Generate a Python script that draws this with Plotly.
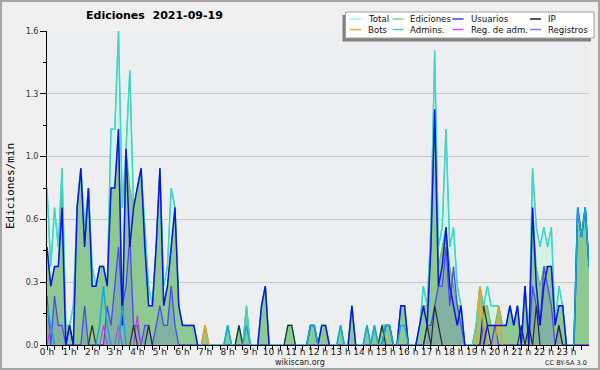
import plotly.graph_objects as go

# ---------------- data (edits per minute, 10-minute bins, 0:00 .. 24:00) ----------------
hour_labels = [f"{h} h" for h in range(24)]
y_tick_vals = [0, 0.32, 0.64, 0.96, 1.28, 1.6]
y_tick_text = ["0.0", "0.3", "0.6", "1.0", "1.3", "1.6"]

total = [
    0.8, 0.4, 0.7, 0.5, 0.9, 0.1,   0.1, 0.2, 0.7, 0.9, 0.6, 0.8,
    0.4, 0.3, 0.4, 0.4, 0.3, 1.1,   1.1, 1.6, 0.7, 1.0, 1.4, 0.7,
    0.8, 0.9, 0.6, 0.3, 0.2, 0.5,   0.9, 0.3, 0.4, 0.8, 0.7, 0.2,
    0.1, 0.1, 0.1, 0.1, 0.0, 0.0,   0.1, 0.0, 0.0, 0.0, 0.0, 0.0,
    0.1, 0.0, 0.0, 0.1, 0.0, 0.2,   0.0, 0.0, 0.0, 0.2, 0.3, 0.0,
    0.0, 0.0, 0.0, 0.0, 0.1, 0.1,   0.0, 0.0, 0.0, 0.0, 0.1, 0.1,
    0.0, 0.1, 0.1, 0.0, 0.0, 0.0,   0.1, 0.0, 0.0, 0.2, 0.0, 0.0,
    0.0, 0.1, 0.0, 0.1, 0.0, 0.1,   0.1, 0.1, 0.0, 0.0, 0.2, 0.2,
    0.0, 0.0, 0.0, 0.1, 0.3, 0.2,   0.6, 1.5, 0.5, 0.6, 1.1, 0.5,
    0.6, 0.3, 0.2, 0.0, 0.0, 0.0,   0.1, 0.3, 0.2, 0.3, 0.2, 0.2,
    0.2, 0.1, 0.1, 0.2, 0.1, 0.2,   0.0, 0.3, 0.0, 0.9, 0.6, 0.5,
    0.6, 0.5, 0.6, 0.1, 0.3, 0.2,   0.0, 0.0, 0.0, 0.7, 0.55, 0.7,
    0.4,
]
ediciones = [
    0.5, 0.3, 0.4, 0.4, 0.8, 0.1,   0.1, 0.0, 0.7, 0.9, 0.5, 0.8,
    0.3, 0.3, 0.4, 0.4, 0.3, 0.8,   0.8, 1.1, 0.2, 1.0, 0.8, 0.7,
    0.8, 0.9, 0.5, 0.2, 0.2, 0.5,   0.9, 0.2, 0.3, 0.5, 0.7, 0.2,
    0.1, 0.1, 0.1, 0.1, 0.0, 0.0,   0.1, 0.0, 0.0, 0.0, 0.0, 0.0,
    0.1, 0.0, 0.0, 0.1, 0.0, 0.2,   0.0, 0.0, 0.0, 0.2, 0.3, 0.0,
    0.0, 0.0, 0.0, 0.0, 0.1, 0.1,   0.0, 0.0, 0.0, 0.0, 0.1, 0.1,
    0.0, 0.1, 0.1, 0.0, 0.0, 0.0,   0.1, 0.0, 0.0, 0.2, 0.0, 0.0,
    0.0, 0.1, 0.0, 0.1, 0.0, 0.1,   0.1, 0.1, 0.0, 0.0, 0.2, 0.2,
    0.0, 0.0, 0.0, 0.1, 0.2, 0.2,   0.5, 1.2, 0.4, 0.5, 0.6, 0.4,
    0.3, 0.2, 0.2, 0.0, 0.0, 0.0,   0.1, 0.3, 0.2, 0.2, 0.1, 0.1,
    0.2, 0.1, 0.1, 0.2, 0.1, 0.2,   0.0, 0.3, 0.0, 0.7, 0.4, 0.3,
    0.4, 0.4, 0.4, 0.1, 0.2, 0.2,   0.0, 0.0, 0.0, 0.7, 0.55, 0.7,
    0.4,
]
usuarios = [
    0.5, 0.3, 0.4, 0.4, 0.7, 0.0,   0.1, 0.0, 0.7, 0.9, 0.5, 0.8,
    0.3, 0.3, 0.4, 0.4, 0.3, 0.8,   0.8, 1.1, 0.1, 1.0, 0.5, 0.7,
    0.8, 0.9, 0.5, 0.2, 0.2, 0.5,   0.9, 0.2, 0.3, 0.5, 0.7, 0.2,
    0.1, 0.1, 0.1, 0.1, 0.0, 0.0,   0.0, 0.0, 0.0, 0.0, 0.0, 0.0,
    0.0, 0.0, 0.0, 0.0, 0.0, 0.0,   0.0, 0.0, 0.0, 0.2, 0.3, 0.0,
    0.0, 0.0, 0.0, 0.0, 0.0, 0.0,   0.0, 0.0, 0.0, 0.0, 0.1, 0.1,
    0.0, 0.1, 0.1, 0.0, 0.0, 0.0,   0.0, 0.0, 0.0, 0.2, 0.0, 0.0,
    0.0, 0.0, 0.0, 0.0, 0.0, 0.0,   0.1, 0.1, 0.0, 0.0, 0.2, 0.2,
    0.0, 0.0, 0.0, 0.1, 0.2, 0.1,   0.5, 1.2, 0.3, 0.4, 0.6, 0.3,
    0.2, 0.1, 0.2, 0.0, 0.0, 0.0,   0.0, 0.0, 0.0, 0.1, 0.1, 0.1,
    0.1, 0.1, 0.1, 0.2, 0.1, 0.2,   0.0, 0.3, 0.0, 0.7, 0.3, 0.1,
    0.3, 0.4, 0.4, 0.1, 0.2, 0.2,   0.0, 0.0, 0.0, 0.7, 0.55, 0.7,
    0.4,
]
registros = [
    0.25, 0.0, 0.25, 0.1, 0.1, 0.0,  0.0, 0.0, 0.0, 0.0, 0.2, 0.0,
    0.0, 0.0, 0.0, 0.0, 0.2, 0.1,   0.3, 0.5, 0.2, 0.3, 0.55, 0.1,
    0.1, 0.0, 0.1, 0.1, 0.0, 0.1,   0.2, 0.1, 0.1, 0.3, 0.1, 0.0,
] + [0.0] * 63 + [
    0.0, 0.0, 0.1, 0.1, 0.2, 0.3, 0.3, 0.5, 0.2,
    0.4, 0.2, 0.1, 0.0, 0.0, 0.0,   0.0, 0.0, 0.1, 0.0, 0.0, 0.1,
    0.0, 0.0, 0.0, 0.0, 0.0, 0.0,   0.0, 0.0, 0.0, 0.3, 0.2, 0.1,
    0.4, 0.3, 0.2, 0.0, 0.1, 0.0,   0.0, 0.0, 0.0, 0.0, 0.0, 0.0,
    0.0,
]
ip = [0.0] * 145
for i, v in [(6, 0.1), (12, 0.1), (23, 0.1), (27, 0.1), (51, 0.1), (64, 0.1), (65, 0.1),
             (89, 0.1), (101, 0.1), (103, 0.2), (104, 0.1), (116, 0.2), (117, 0.1),
             (126, 0.1), (128, 0.1), (130, 0.2), (136, 0.1)]:
    ip[i] = v
admins = [0.0] * 145
for i, v in [(0, 0.2), (1, 0.1), (14, 0.1), (15, 0.3), (16, 0.1), (20, 0.2), (48, 0.1),
             (53, 0.1), (70, 0.1), (71, 0.1), (78, 0.1), (85, 0.1), (87, 0.1), (90, 0.1),
             (91, 0.1), (94, 0.1), (95, 0.1), (141, 0.7), (142, 0.55), (143, 0.7), (144, 0.4)]:
    admins[i] = v
bots = [0.0] * 145
for i, v in [(42, 0.1), (115, 0.3), (116, 0.1), (120, 0.2)]:
    bots[i] = v
reg_adm = [0.0] * 145
for i, v in [(1, 0.1), (15, 0.1), (19, 0.1), (24, 0.15)]:
    reg_adm[i] = v

x_hours = [i / 6 for i in range(len(total))]

# ---------------- layout geometry (pixels) ----------------
W, H = 600, 370
ML, MR, MT, MB = 47, 11, 31, 25
PW, PH = W - ML - MR, H - MT - MB


def px(x):
    return (x - ML) / PW


def py(y):
    return (H - MB - y) / PH


fig = go.Figure()

# Total fill + line
fig.add_trace(go.Scatter(x=x_hours, y=total, mode="lines", fill="tozeroy",
                         fillcolor="#d6f1e8", line=dict(color="#3fd6c6", width=1.3),
                         showlegend=False, hoverinfo="skip"))
# Ediciones fill
fig.add_trace(go.Scatter(x=x_hours, y=ediciones, mode="lines", fill="tozeroy",
                         fillcolor="rgba(120,190,120,0.78)", line=dict(color="#5cb85c", width=1),
                         showlegend=False, hoverinfo="skip"))
# Registros (light fill)
fig.add_trace(go.Scatter(x=x_hours, y=registros, mode="lines", fill="tozeroy",
                         fillcolor="rgba(90,90,220,0.22)", line=dict(color="#4a4af2", width=1.3),
                         showlegend=False, hoverinfo="skip"))
# Total line again on top of fills
fig.add_trace(go.Scatter(x=x_hours, y=total, mode="lines",
                         line=dict(color="#3fd6c6", width=1.3),
                         showlegend=False, hoverinfo="skip"))
for series, color, w in [(reg_adm, "#c040e0", 1.2), (ip, "#2a2a2a", 1.2),
                         (bots, "#f0a020", 1.5), (usuarios, "#0a14e6", 1.5),
                         (admins, "#12aad8", 1.5)]:
    ys = [v if v > 0 or (i > 0 and series[i - 1] > 0) or (i < len(series) - 1 and series[i + 1] > 0) else None
          for i, v in enumerate(series)]
    fig.add_trace(go.Scatter(x=x_hours, y=ys, mode="lines", connectgaps=False,
                             line=dict(color=color, width=w),
                             showlegend=False, hoverinfo="skip"))

shapes = []
# outer border
shapes.append(dict(type="rect", xref="paper", yref="paper", x0=px(1), x1=px(599), y0=py(1), y1=py(369),
                   line=dict(color="#a6a6a6", width=2), fillcolor="rgba(0,0,0,0)", layer="below"))
# legend shadow + box
shapes.append(dict(type="rect", xref="paper", yref="paper", x0=px(342.5), x1=px(591), y0=py(15), y1=py(41.5),
                   line=dict(width=0), fillcolor="#808080", layer="above"))
shapes.append(dict(type="rect", xref="paper", yref="paper", x0=px(345.5), x1=px(594), y0=py(12), y1=py(38),
                   line=dict(color="#a0a0a0", width=1), fillcolor="#ffffff", layer="above"))

legend_names = ["Total", "Ediciones", "Usuarios", "IP", "Bots", "Admins.", "Reg. de adm.", "Registros"]
legend_colors = ["#a8e8df", "#86d086", "#3c3ce8", "#1e1e1e", "#f8a040", "#40cce0", "#d050e8", "#7c7cf0"]
col_line_x = [350, 392.5, 452.5, 530]
col_text_x = [365.5, 408, 469, 545.5]
row_y = [19, 29.5]
annotations = []
for k, (name, color) in enumerate(zip(legend_names, legend_colors)):
    r, c = divmod(k, 4)
    shapes.append(dict(type="line", xref="paper", yref="paper",
                       x0=px(col_line_x[c]), x1=px(col_line_x[c] + 11),
                       y0=py(row_y[r]), y1=py(row_y[r]), line=dict(color=color, width=1.5), layer="above"))
    annotations.append(dict(text=name, xref="paper", yref="paper", x=px(col_text_x[c]), y=py(row_y[r]),
                            xanchor="left", yanchor="middle", showarrow=False,
                            font=dict(family="DejaVu Sans", size=8.6, color="#111111")))

annotations.append(dict(text="Ediciones\u00a0 2021-09-19", xref="paper", yref="paper", x=px(154), y=py(16),
                        xanchor="center", yanchor="middle", showarrow=False,
                        font=dict(family="DejaVu Sans", size=11, color="#000000", weight="bold")))
annotations.append(dict(text="Ediciones/min", xref="paper", yref="paper", x=px(10), y=py(186),
                        xanchor="center", yanchor="middle", showarrow=False, textangle=-90,
                        font=dict(family="DejaVu Sans Mono", size=11, color="#000000")))
annotations.append(dict(text="wikiscan.org", xref="paper", yref="paper", x=px(300), y=py(362),
                        xanchor="center", yanchor="middle", showarrow=False,
                        font=dict(family="DejaVu Sans", size=8, color="#222222")))
annotations.append(dict(text="CC BY-SA 3.0", xref="paper", yref="paper", x=px(589), y=py(362.5),
                        xanchor="right", yanchor="middle", showarrow=False,
                        font=dict(family="DejaVu Sans", size=6.5, color="#222222")))

fig.update_layout(
    width=W, height=H, margin=dict(l=ML, r=MR, t=MT, b=MB, autoexpand=False),
    paper_bgcolor="#f0f0f0", plot_bgcolor="#eceef0",
    shapes=shapes, annotations=annotations, showlegend=False,
    xaxis=dict(range=[0, 24], tickvals=list(range(24)), ticktext=hour_labels, automargin=False,
               ticks="outside", ticklen=4, tickwidth=1, tickcolor="#000000", ticklabelstandoff=-6,
               showline=True, linecolor="#000000", linewidth=1, showgrid=False, zeroline=False,
               tickfont=dict(family="DejaVu Sans", size=9, color="#222222"),
               minor=dict(tickvals=[i / 3 for i in range(72) if i % 3], ticks="outside",
                          ticklen=4, tickcolor="#000000", showgrid=False),
               fixedrange=True),
    yaxis=dict(range=[0, 1.6], tickvals=y_tick_vals, ticktext=y_tick_text, automargin=False,
               ticks="outside", ticklen=6, tickwidth=1, tickcolor="#000000",
               showline=True, linecolor="#000000", linewidth=1,
               showgrid=True, gridcolor="#c8c8c8", gridwidth=1, zeroline=False,
               tickfont=dict(family="DejaVu Sans", size=8, color="#333333"),
               minor=dict(tickvals=[0.16, 0.48, 0.8, 1.12, 1.44], ticks="outside",
                          ticklen=3, tickcolor="#000000", showgrid=False),
               fixedrange=True),
)

fig.write_html("out.html")
